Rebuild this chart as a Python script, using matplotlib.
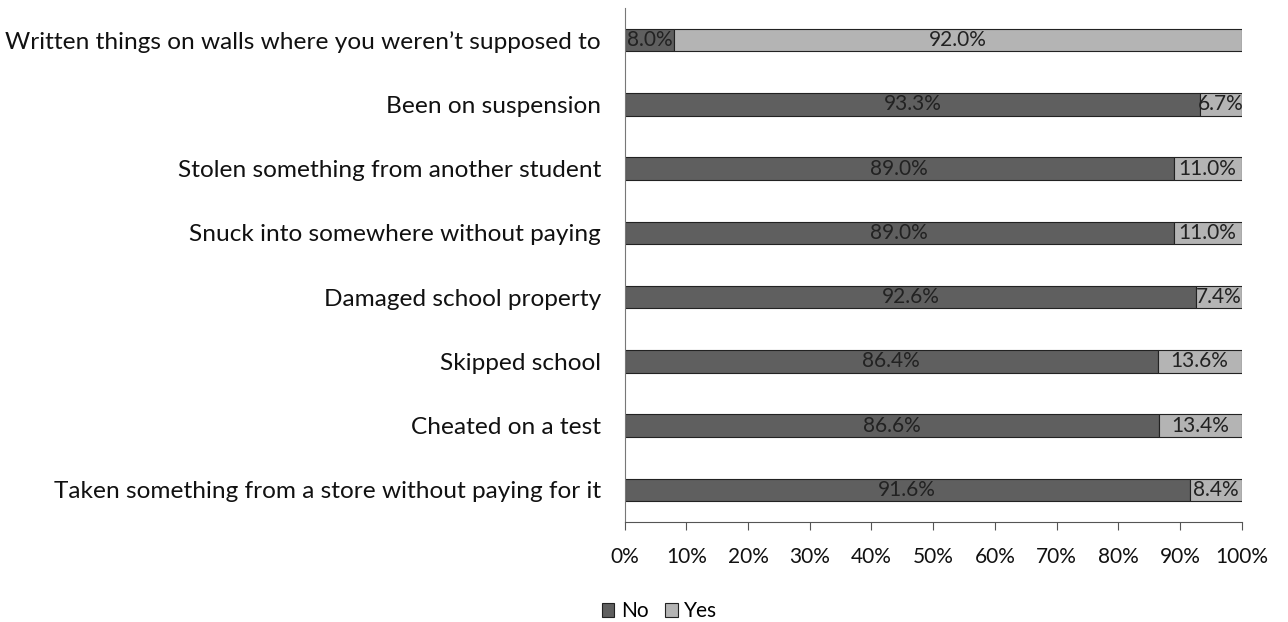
import matplotlib.pyplot as plt
import numpy as np

plt.rcParams['font.family'] = ['Lato', 'DejaVu Sans']

categories = [
    'Taken something from a store without paying for it',
    'Cheated on a test',
    'Skipped school',
    'Damaged school property',
    'Snuck into somewhere without paying',
    'Stolen something from another student',
    'Been on suspension',
    'Written things on walls where you weren\u2019t supposed to',
]
no_vals = [91.6, 86.6, 86.4, 92.6, 89.0, 89.0, 93.3, 8.0]
yes_vals = [8.4, 13.4, 13.6, 7.4, 11.0, 11.0, 6.7, 92.0]

fig = plt.figure(figsize=(12.88, 6.22), dpi=100)
ax = fig.add_axes([0.485, 0.161, 0.479, 0.826])

y = np.arange(len(categories))
h = 0.35
b1 = ax.barh(y, no_vals, h, color='#5f5f5f', edgecolor='#222222', linewidth=0.8, label='No')
b2 = ax.barh(y, yes_vals, h, left=no_vals, color='#b4b4b4', edgecolor='#222222', linewidth=0.8, label='Yes')

for i in range(len(categories)):
    ax.text(no_vals[i] / 2, y[i], f'{no_vals[i]:.1f}%', ha='center', va='center', fontsize=15, color='#222222')
    ax.text(no_vals[i] + yes_vals[i] / 2, y[i], f'{yes_vals[i]:.1f}%', ha='center', va='center', fontsize=15, color='#222222')

ax.set_xlim(0, 100)
ax.set_ylim(-0.5, 7.5)
ax.set_yticks(y)
ax.set_yticklabels(categories, fontsize=17.6, color='#111111')
ax.set_xticks(np.arange(0, 101, 10))
ax.set_xticklabels([f'{v}%' for v in range(0, 101, 10)], fontsize=15, color='#111111')
ax.tick_params(axis='y', length=0, pad=17)
ax.tick_params(axis='x', length=6, direction='out', pad=12, color='#555555')
for s in ['top', 'right']:
    ax.spines[s].set_visible(False)
ax.spines['left'].set_color('#777777')
ax.spines['bottom'].set_color('#555555')

fig.legend(handles=[b1, b2], loc='center', bbox_to_anchor=(0.512, 0.017), ncol=2, frameon=False,
           fontsize=15, handlelength=0.6, handleheight=0.6, handletextpad=0.3, columnspacing=0.8)

fig.savefig('out.png', dpi=100)
